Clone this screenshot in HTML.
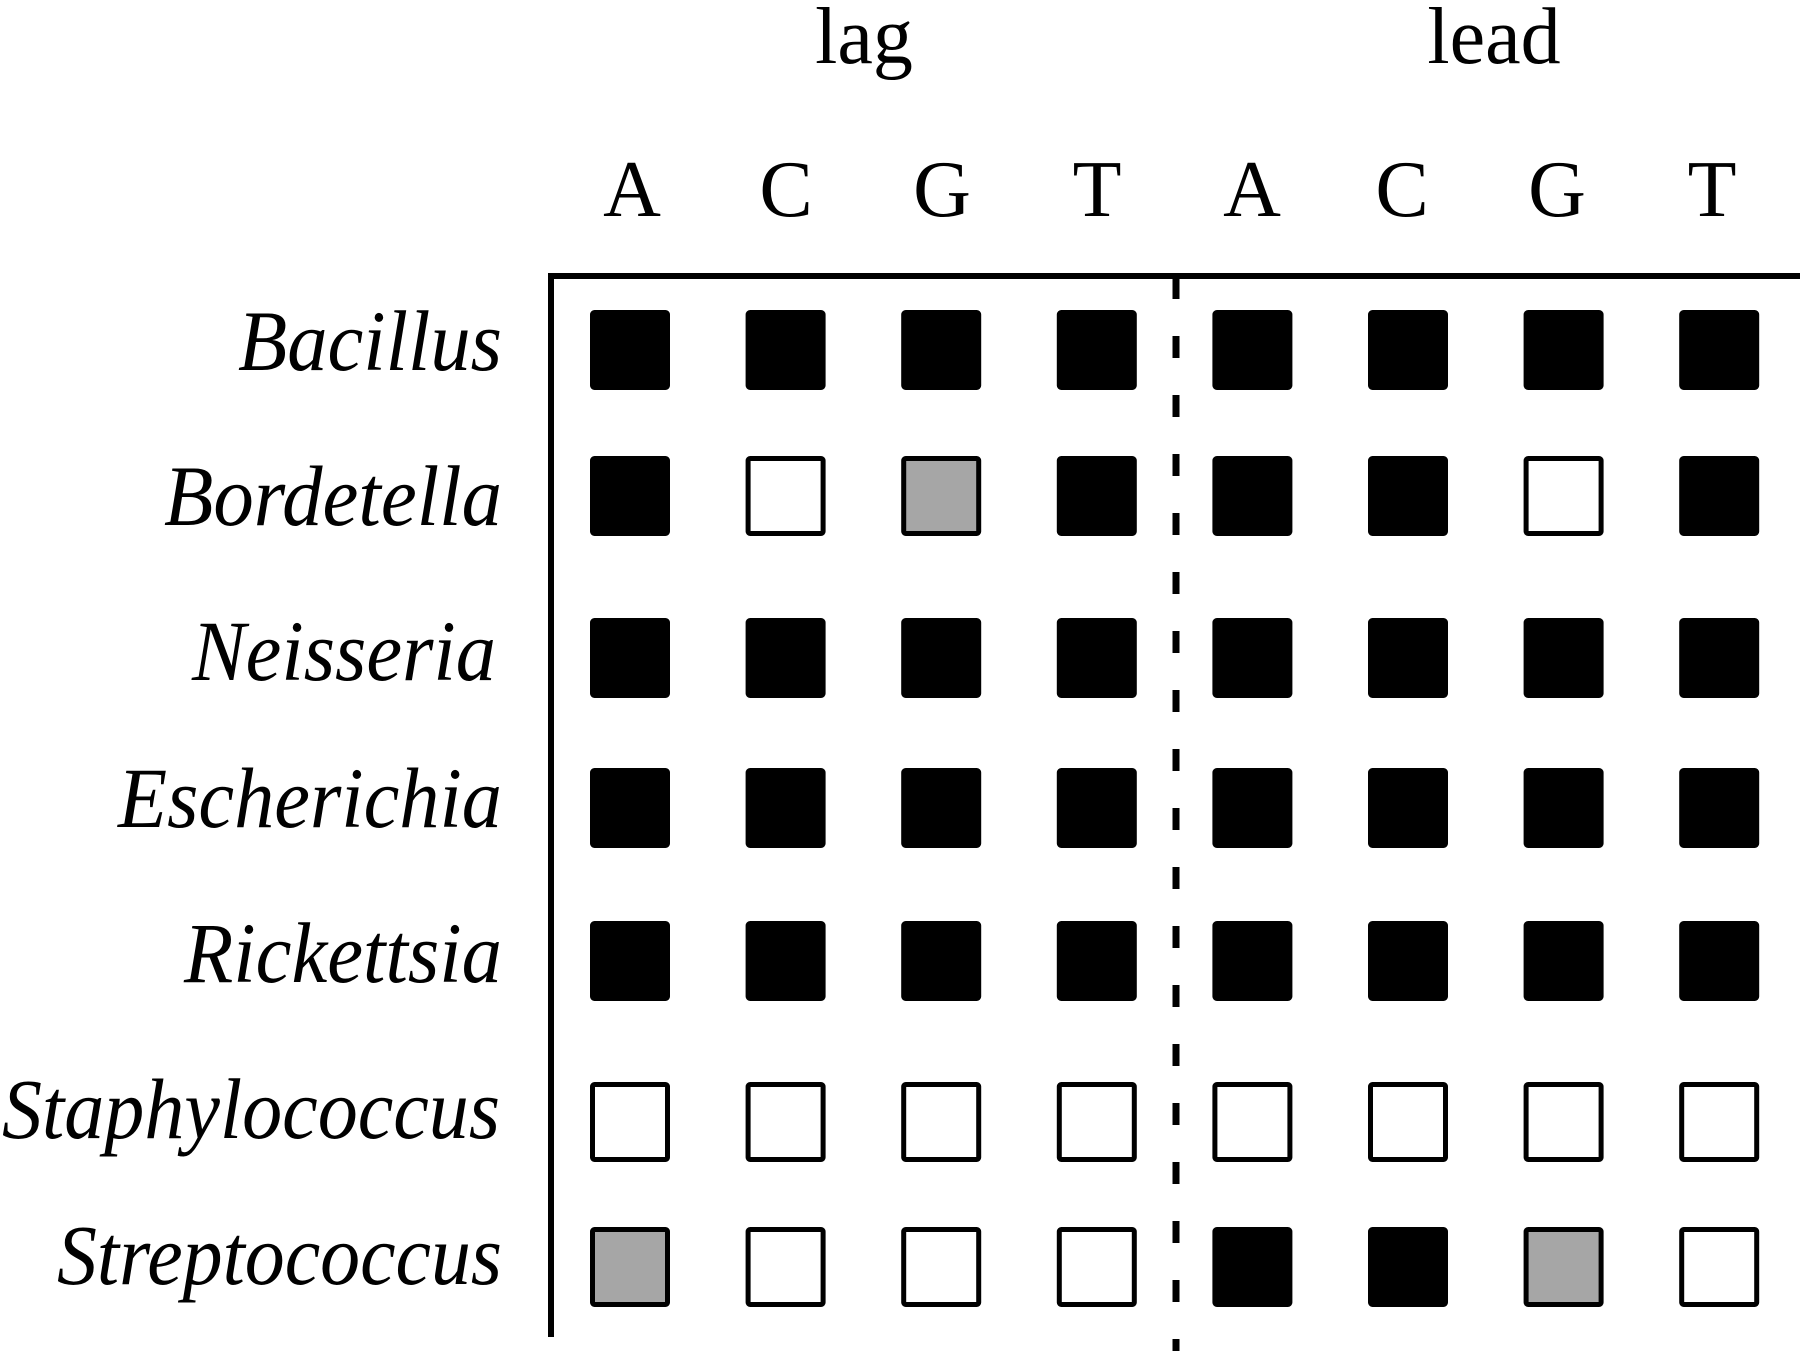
<!DOCTYPE html>
<html><head><meta charset="utf-8"><style>html,body{margin:0;padding:0;background:#fff}svg{display:block}
rect.b{fill:#000}rect.w{fill:#fff}rect.g{fill:#a6a6a6}
rect.b,rect.w,rect.g{stroke:#000;stroke-width:5}</style></head>
<body>
<svg width="1800" height="1351" viewBox="0 0 1800 1351" xmlns="http://www.w3.org/2000/svg">
<rect width="1800" height="1351" fill="#fff"/>
<g font-family="Liberation Serif, serif" fill="#000">
<text x="864" y="63" font-size="80" text-anchor="middle">lag</text>
<text x="1494" y="63" font-size="80" text-anchor="middle">lead</text>
<g font-size="80" text-anchor="middle">
<text x="632" y="216">A</text><text x="786" y="216">C</text><text x="942" y="216">G</text><text x="1097" y="216">T</text>
<text x="1252" y="216">A</text><text x="1402" y="216">C</text><text x="1557" y="216">G</text><text x="1712" y="216">T</text>
</g>
<g font-size="86" font-style="italic">
<text x="238" y="370" textLength="264" lengthAdjust="spacingAndGlyphs">Bacillus</text>
<text x="164" y="525" textLength="338" lengthAdjust="spacingAndGlyphs">Bordetella</text>
<text x="192" y="680" textLength="304" lengthAdjust="spacingAndGlyphs">Neisseria</text>
<text x="118" y="827" textLength="384" lengthAdjust="spacingAndGlyphs">Escherichia</text>
<text x="184" y="982" textLength="318" lengthAdjust="spacingAndGlyphs">Rickettsia</text>
<text x="2" y="1138" textLength="498" lengthAdjust="spacingAndGlyphs">Staphylococcus</text>
<text x="57" y="1284" textLength="445" lengthAdjust="spacingAndGlyphs">Streptococcus</text>
</g>
</g>
<line x1="551" y1="273" x2="551" y2="1337" stroke="#000" stroke-width="6"/>
<line x1="548" y1="276" x2="1800" y2="276" stroke="#000" stroke-width="6"/>
<line x1="1176" y1="277" x2="1176" y2="1351" stroke="#000" stroke-width="7" stroke-dasharray="22 37"/>
<g>
<rect class="b" x="592.5" y="312.5" width="75" height="75" rx="2"/><rect class="b" x="748.1" y="312.5" width="75" height="75" rx="2"/><rect class="b" x="903.7" y="312.5" width="75" height="75" rx="2"/><rect class="b" x="1059.3" y="312.5" width="75" height="75" rx="2"/><rect class="b" x="1214.9" y="312.5" width="75" height="75" rx="2"/><rect class="b" x="1370.5" y="312.5" width="75" height="75" rx="2"/><rect class="b" x="1526.1" y="312.5" width="75" height="75" rx="2"/><rect class="b" x="1681.7" y="312.5" width="75" height="75" rx="2"/>

<rect class="b" x="592.5" y="458.5" width="75" height="75" rx="2"/><rect class="w" x="748.1" y="458.5" width="75" height="75" rx="2"/><rect class="g" x="903.7" y="458.5" width="75" height="75" rx="2"/><rect class="b" x="1059.3" y="458.5" width="75" height="75" rx="2"/><rect class="b" x="1214.9" y="458.5" width="75" height="75" rx="2"/><rect class="b" x="1370.5" y="458.5" width="75" height="75" rx="2"/><rect class="w" x="1526.1" y="458.5" width="75" height="75" rx="2"/><rect class="b" x="1681.7" y="458.5" width="75" height="75" rx="2"/>

<rect class="b" x="592.5" y="620.5" width="75" height="75" rx="2"/><rect class="b" x="748.1" y="620.5" width="75" height="75" rx="2"/><rect class="b" x="903.7" y="620.5" width="75" height="75" rx="2"/><rect class="b" x="1059.3" y="620.5" width="75" height="75" rx="2"/><rect class="b" x="1214.9" y="620.5" width="75" height="75" rx="2"/><rect class="b" x="1370.5" y="620.5" width="75" height="75" rx="2"/><rect class="b" x="1526.1" y="620.5" width="75" height="75" rx="2"/><rect class="b" x="1681.7" y="620.5" width="75" height="75" rx="2"/>

<rect class="b" x="592.5" y="770.5" width="75" height="75" rx="2"/><rect class="b" x="748.1" y="770.5" width="75" height="75" rx="2"/><rect class="b" x="903.7" y="770.5" width="75" height="75" rx="2"/><rect class="b" x="1059.3" y="770.5" width="75" height="75" rx="2"/><rect class="b" x="1214.9" y="770.5" width="75" height="75" rx="2"/><rect class="b" x="1370.5" y="770.5" width="75" height="75" rx="2"/><rect class="b" x="1526.1" y="770.5" width="75" height="75" rx="2"/><rect class="b" x="1681.7" y="770.5" width="75" height="75" rx="2"/>

<rect class="b" x="592.5" y="923.5" width="75" height="75" rx="2"/><rect class="b" x="748.1" y="923.5" width="75" height="75" rx="2"/><rect class="b" x="903.7" y="923.5" width="75" height="75" rx="2"/><rect class="b" x="1059.3" y="923.5" width="75" height="75" rx="2"/><rect class="b" x="1214.9" y="923.5" width="75" height="75" rx="2"/><rect class="b" x="1370.5" y="923.5" width="75" height="75" rx="2"/><rect class="b" x="1526.1" y="923.5" width="75" height="75" rx="2"/><rect class="b" x="1681.7" y="923.5" width="75" height="75" rx="2"/>

<rect class="w" x="592.5" y="1084.5" width="75" height="75" rx="2"/><rect class="w" x="748.1" y="1084.5" width="75" height="75" rx="2"/><rect class="w" x="903.7" y="1084.5" width="75" height="75" rx="2"/><rect class="w" x="1059.3" y="1084.5" width="75" height="75" rx="2"/><rect class="w" x="1214.9" y="1084.5" width="75" height="75" rx="2"/><rect class="w" x="1370.5" y="1084.5" width="75" height="75" rx="2"/><rect class="w" x="1526.1" y="1084.5" width="75" height="75" rx="2"/><rect class="w" x="1681.7" y="1084.5" width="75" height="75" rx="2"/>

<rect class="g" x="592.5" y="1229.5" width="75" height="75" rx="2"/><rect class="w" x="748.1" y="1229.5" width="75" height="75" rx="2"/><rect class="w" x="903.7" y="1229.5" width="75" height="75" rx="2"/><rect class="w" x="1059.3" y="1229.5" width="75" height="75" rx="2"/><rect class="b" x="1214.9" y="1229.5" width="75" height="75" rx="2"/><rect class="b" x="1370.5" y="1229.5" width="75" height="75" rx="2"/><rect class="g" x="1526.1" y="1229.5" width="75" height="75" rx="2"/><rect class="w" x="1681.7" y="1229.5" width="75" height="75" rx="2"/>
</g>
</svg>
</body></html>
